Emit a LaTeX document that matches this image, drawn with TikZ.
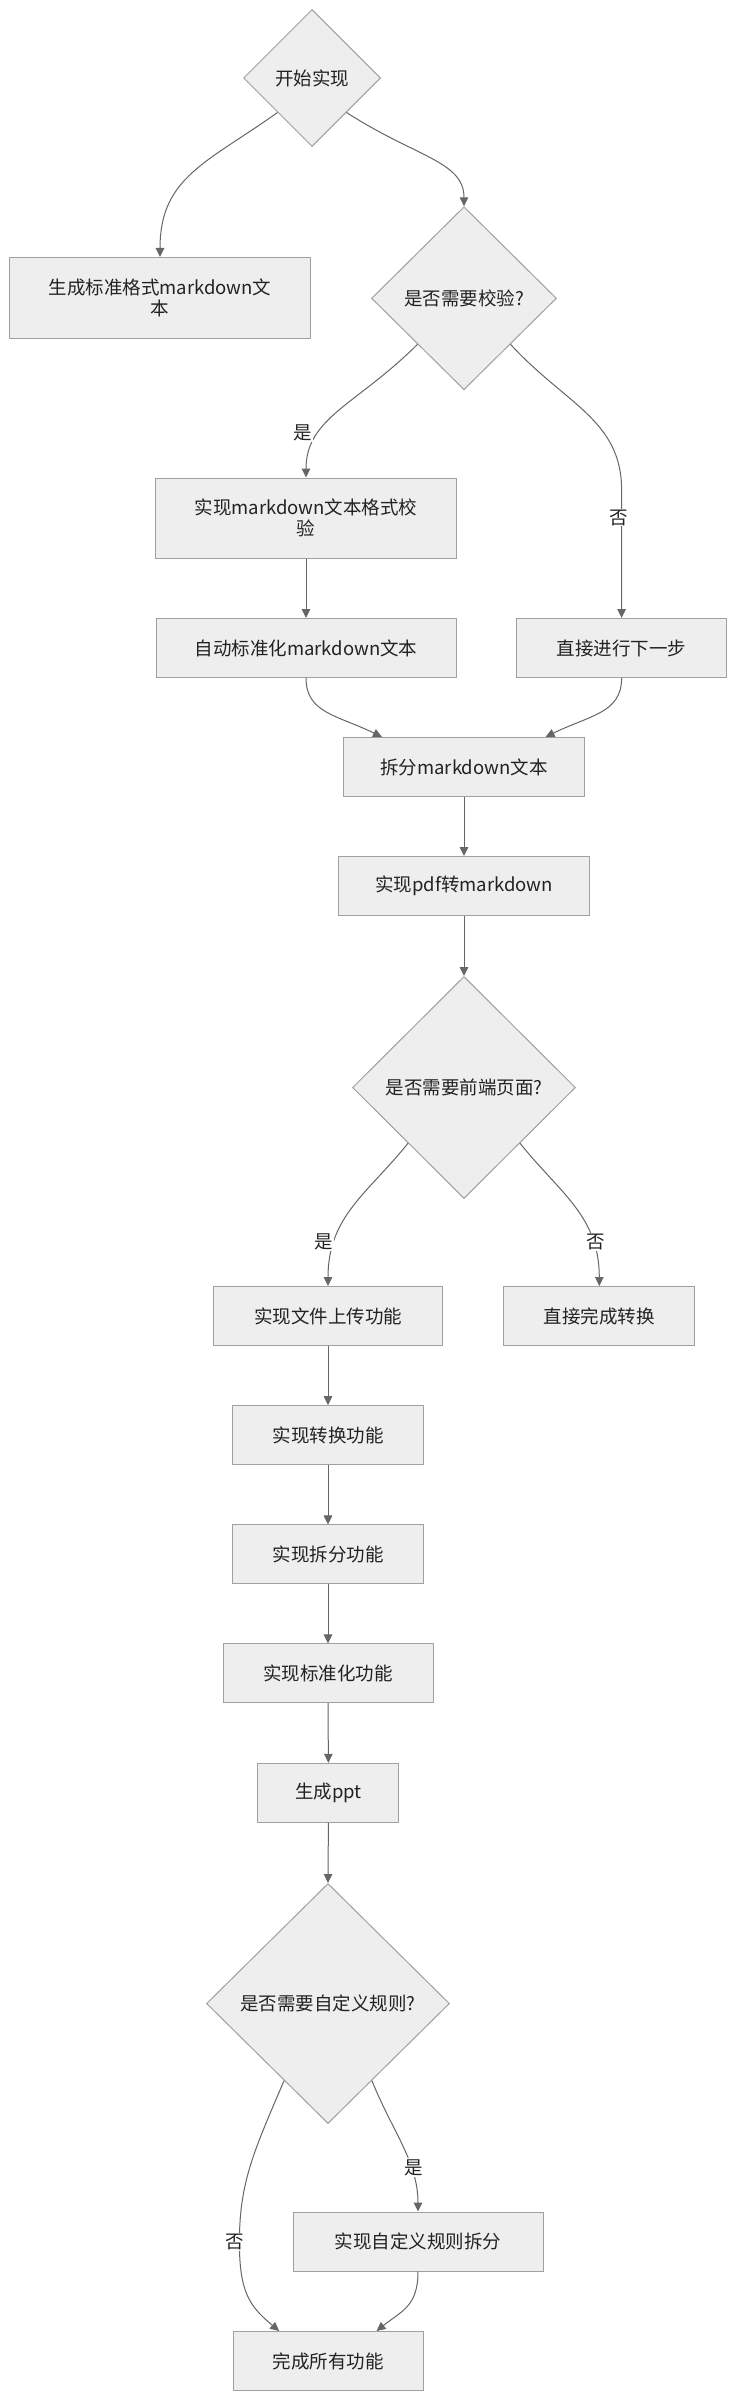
\documentclass[tikz,border=0pt]{standalone}
\usepackage{fontspec}
\setmainfont{Noto Sans CJK SC}
\usetikzlibrary{shapes.geometric,arrows.meta,calc}
\definecolor{nodefill}{HTML}{EEEEEE}
\definecolor{nodestroke}{HTML}{A0A0A0}
\definecolor{edgecol}{HTML}{666666}
\definecolor{txtcol}{HTML}{222222}
\tikzset{
  base/.style={fill=nodefill, draw=nodestroke, line width=1pt, inner sep=0pt,
    align=center, text=txtcol, font=\fontsize{18.5}{20.5}\selectfont},
  box/.style={base, rectangle},
  decision/.style={base, diamond, aspect=1},
  edge/.style={draw=edgecol, line width=1pt, -{Triangle[length=9pt,width=8.5pt]}},
  lbl/.style={fill=white, inner sep=1pt, text=txtcol, font=\fontsize{18.5}{20.5}\selectfont}
}
\begin{document}
\begin{tikzpicture}[x=1pt,y=-1pt]
\fill[white] (0,0) rectangle (736,2400);
\useasboundingbox (0,0) rectangle (736,2400);

\node[decision, minimum width=137pt, minimum height=137pt] (d1) at (312,78) {开始实现};
\node[box, minimum width=301pt, minimum height=81pt] (b1) at (160,298) {生成标准格式markdown文\\本};
\node[decision, minimum width=185pt, minimum height=183pt] (d2) at (464,298.3) {是否需要校验?};
\node[box, minimum width=301pt, minimum height=80pt] (b3) at (306,518) {实现markdown文本格式校\\验};
\node[box, minimum width=300pt, minimum height=59pt] (b4) at (306,648) {自动标准化markdown文本};
\node[box, minimum width=210pt, minimum height=59pt] (bd) at (621.6,648) {直接进行下一步};
\node[box, minimum width=241pt, minimum height=59pt] (split) at (464,767) {拆分markdown文本};
\node[box, minimum width=251pt, minimum height=59pt] (pdf) at (464,886) {实现pdf转markdown};
\node[decision, minimum width=223pt, minimum height=222pt] (d3) at (464,1087.5) {是否需要前端页面?};
\node[box, minimum width=229pt, minimum height=59pt] (up) at (328,1316) {实现文件上传功能};
\node[box, minimum width=191pt, minimum height=59pt] (dc) at (599.3,1316) {直接完成转换};
\node[box, minimum width=190.6pt, minimum height=58.7pt] (conv) at (328,1435) {实现转换功能};
\node[box, minimum width=190.6pt, minimum height=58.7pt] (spl) at (328,1554.3) {实现拆分功能};
\node[box, minimum width=210pt, minimum height=58.7pt] (std) at (328,1673.3) {实现标准化功能};
\node[box, minimum width=141pt, minimum height=58.7pt] (ppt) at (328.4,1792.7) {生成ppt};
\node[decision, minimum width=243pt, minimum height=240pt] (d4) at (328,2003.5) {是否需要自定义规则?};
\node[box, minimum width=250pt, minimum height=59pt] (cust) at (418,2241.5) {实现自定义规则拆分};
\node[box, minimum width=190pt, minimum height=59pt] (done) at (328.2,2361) {完成所有功能};

\coordinate (k1) at (621.6,490);
\coordinate (k2) at (239.4,2242);

% edges
\draw[edge] (d1.south west) .. controls +(-70,50) and +(0,-80) .. (b1.north);
\draw[edge] (d1.south east) .. controls +(70,45) and +(0,-45) .. (d2.north);
\draw[edge] (d2.south west) .. controls +(-60,60) and +(0,-60) .. (b3.north);
\draw[edge] (d2.south east) .. controls +(55,60) and +(0,-70) .. (k1) -- (bd.north);
\draw[edge] (b3.south) -- (b4.north);
\draw[edge] (b4.south) .. controls +(0,35) and +(-45,-22) .. ($(split.north west)+(39,0)$);
\draw[edge] (bd.south) .. controls +(0,35) and +(45,-22) .. ($(split.north west)+(202.5,0)$);
\draw[edge] (split.south) -- (pdf.north);
\draw[edge] (pdf.south) -- (d3.north);
\draw[edge] (d3.south west) .. controls +(-40,50) and +(0,-70) .. (up.north);
\draw[edge] (d3.south east) .. controls +(40,50) and +(0,-70) .. (dc.north);
\draw[edge] (up.south) -- (conv.north);
\draw[edge] (conv.south) -- (spl.north);
\draw[edge] (spl.south) -- (std.north);
\draw[edge] (std.south) -- (ppt.north);
\draw[edge] (ppt.south) -- (d4.north);
\draw[edge] ($(d4.south)!0.36!(d4.east)$) .. controls +(20,50) and +(0,-50) .. (cust.north);
\draw[edge] ($(d4.south)!0.36!(d4.west)$) .. controls +(-30,70) and +(0,-60) .. (k2)
  .. controls +(0,50) and +(-30,-25) .. ($(done.north west)+(46.5,0)$);
\draw[edge] (cust.south) .. controls +(0,35) and +(25,-20) .. ($(done.north west)+(143.8,0)$);

% labels
\node[lbl] (l1) at (302.8,433) {是};
\node[lbl] (l2) at (618.8,517.5) {否};
\node[lbl] (l3) at (324,1241.7) {是};
\node[lbl] (l4) at (596.2,1241.7) {否};
\node[lbl] (l5) at (414,2167.5) {是};
\node[lbl] (l6) at (234.7,2242.3) {否};
\end{tikzpicture}
\end{document}
